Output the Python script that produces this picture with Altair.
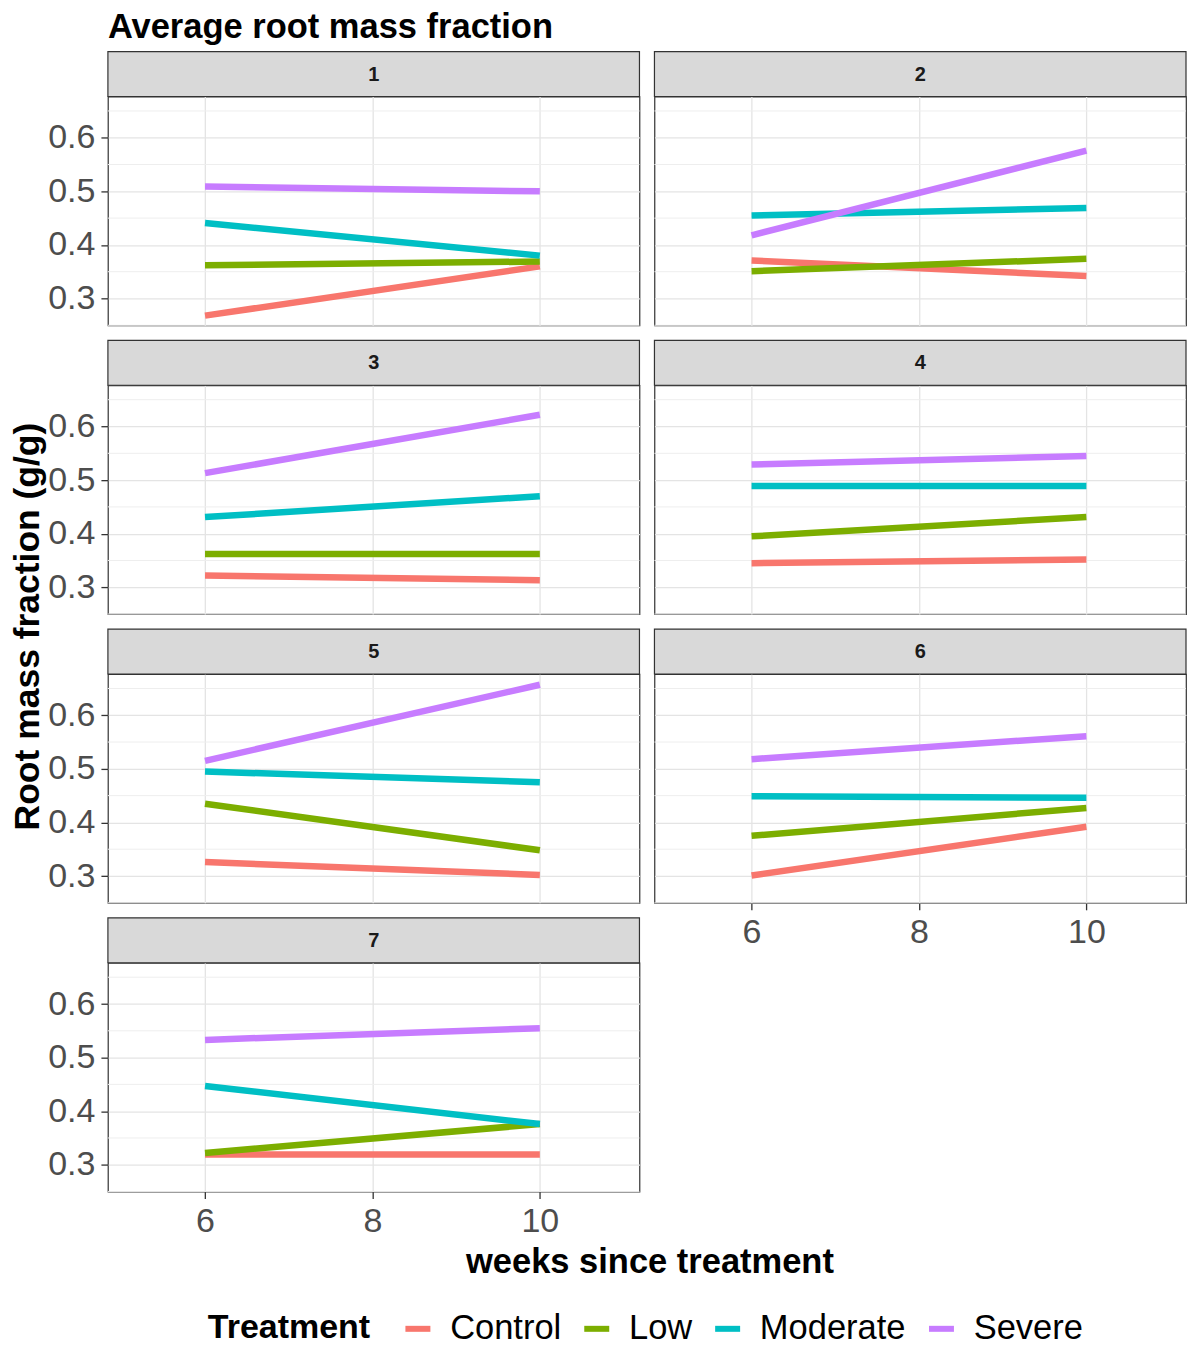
import altair as alt
import pandas as pd

# ---------------- data ----------------
panels = ["1", "2", "3", "4", "5", "6", "7"]
treatments = ["Control", "Low", "Moderate", "Severe"]
weeks = [6, 10]
treatment_colors = ["#F8766D", "#7CAE00", "#00BFC4", "#C77CFF"]

# root mass fraction at week 6 and week 10, one entry per panel (1..7)
control_w6 = [0.268, 0.371, 0.322, 0.345, 0.326, 0.301, 0.319]
control_w10 = [0.360, 0.342, 0.313, 0.352, 0.302, 0.392, 0.319]
low_w6 = [0.362, 0.351, 0.362, 0.395, 0.435, 0.375, 0.322]
low_w10 = [0.369, 0.374, 0.362, 0.431, 0.348, 0.427, 0.376]
moderate_w6 = [0.441, 0.455, 0.431, 0.489, 0.495, 0.449, 0.447]
moderate_w10 = [0.380, 0.469, 0.470, 0.489, 0.475, 0.446, 0.376]
severe_w6 = [0.509, 0.418, 0.513, 0.529, 0.515, 0.518, 0.533]
severe_w10 = [0.500, 0.576, 0.622, 0.545, 0.657, 0.561, 0.555]

y_major_ticks = [0.3, 0.4, 0.5, 0.6]
y_minor_ticks = [0.25, 0.35, 0.45, 0.55, 0.65]
x_major_ticks = [6, 8, 10]

title_text = "Average root mass fraction"
y_title = "Root mass fraction (g/g)"
x_title = "weeks since treatment"
legend_title = "Treatment"

# ---------------- styling ----------------
y_domain = [0.250, 0.677]
x_domain = [4.84, 11.19]
W, H = 532, 229
FONT = "Liberation Sans"
GRID = "#E4E4E4"

start_vals = {"Control": control_w6, "Low": low_w6, "Moderate": moderate_w6, "Severe": severe_w6}
end_vals = {"Control": control_w10, "Low": low_w10, "Moderate": moderate_w10, "Severe": severe_w10}


def make_panel(i):
    rows = []
    for t in treatments:
        rows.append({"treatment": t, "week": weeks[0], "value": start_vals[t][i]})
        rows.append({"treatment": t, "week": weeks[1], "value": end_vals[t][i]})
    df = pd.DataFrame(rows)

    left = (i % 2 == 0)
    bottom = i in (5, 6)

    yscale = alt.Scale(domain=y_domain, nice=False, zero=False)
    xscale = alt.Scale(domain=x_domain, nice=False, zero=False)

    y_kw = dict(values=y_major_ticks, grid=True, gridColor=GRID, gridWidth=1.3,
                domain=False, format=".1f", labels=left, ticks=left, title=None)
    if i == 4:
        y_kw.update(title=y_title, titleFont=FONT, titleFontSize=35.5,
                    titleFontWeight="bold", titleColor="#000000",
                    titleX=-62, titleY=-48, titleAngle=270, titleBaseline="bottom")
    y_axis = alt.Axis(**y_kw)

    x_kw = dict(values=x_major_ticks, grid=True, gridColor=GRID, gridWidth=1.3,
                domain=False, format="d", labels=bottom, ticks=bottom, title=None)
    if i == 6:
        x_kw.update(title=x_title, titleFont=FONT, titleFontSize=34.5,
                    titleFontWeight="bold", titleColor="#000000",
                    titleX=542, titlePadding=7)
    x_axis = alt.Axis(**x_kw)

    minor_df = pd.DataFrame({"v": y_minor_ticks})
    minor = alt.Chart(minor_df).mark_rule(color="#EEEEEE", strokeWidth=1).encode(
        y=alt.Y("v:Q", scale=yscale, axis=y_axis)
    )

    lines = alt.Chart(df).mark_line(strokeWidth=6.5, strokeCap="butt").encode(
        x=alt.X("week:Q", scale=xscale, axis=x_axis),
        y=alt.Y("value:Q", scale=yscale, axis=y_axis),
        color=alt.Color("treatment:N",
                        scale=alt.Scale(domain=treatments, range=treatment_colors),
                        legend=alt.Legend(title=legend_title)),
        detail="treatment:N",
    )

    strip_df = pd.DataFrame({"panel": [panels[i]]})
    strip_rect = alt.Chart(strip_df).mark_rect(
        fill="#D9D9D9", stroke="#333333", strokeWidth=1.2
    ).encode(x=alt.value(0), x2=alt.value(W), y=alt.value(-45), y2=alt.value(0))
    strip_text = alt.Chart(strip_df).mark_text(
        font=FONT, fontSize=20, fontWeight="bold", color="#1A1A1A", baseline="middle"
    ).encode(x=alt.value(W / 2), y=alt.value(-22), text="panel:N")

    ch = alt.layer(minor, lines, strip_rect, strip_text).properties(width=W, height=H)
    if i == 0:
        ch = ch.properties(title=alt.TitleParams(
            title_text, anchor="start", frame="group", font=FONT, fontSize=34.5,
            fontWeight="bold", color="#000000", offset=5.5))
    return ch


charts = [make_panel(i) for i in range(len(panels))]

chart = alt.concat(
    *charts, columns=2, spacing={"row": 60, "column": 15}, bounds="flush"
).resolve_scale(
    color="shared"
).properties(
    padding={"left": 2, "top": 0, "right": -1, "bottom": -1}
).configure_view(
    stroke="#333333", strokeWidth=1.2, fill="#FFFFFF"
).configure_axis(
    labelFont=FONT, labelFontSize=34, labelColor="#4D4D4D",
    tickColor="#333333", tickSize=7, tickWidth=1.3, labelPadding=6,
).configure_legend(
    orient="none", legendX=100, legendY=1216, direction="horizontal",
    titleOrient="left", titleFont=FONT, titleFontSize=34, titleFontWeight="bold",
    titleColor="#000000", titlePadding=30, titleBaseline="middle",
    labelFont=FONT, labelFontSize=34.5, labelColor="#000000", labelOffset=15,
    symbolType="stroke", symbolStrokeWidth=6, symbolSize=625, columnPadding=10,
)

chart.save("out.html", embed_options={"renderer": "svg", "actions": False})
